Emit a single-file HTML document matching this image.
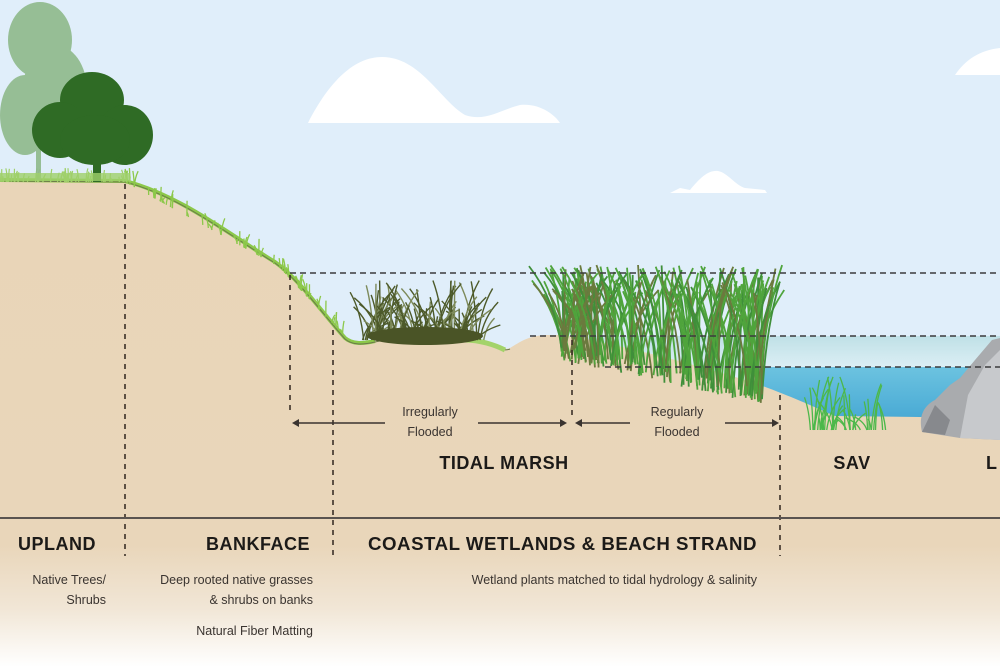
<!DOCTYPE html>
<html><head><meta charset="utf-8"><style>
html,body{margin:0;padding:0;width:1000px;height:667px;overflow:hidden;background:#fff}
svg{display:block}
text{font-family:"Liberation Sans",sans-serif}
.h{font-weight:bold;font-size:18px;fill:#1c1a18;letter-spacing:0.5px}
.s{font-size:12.5px;fill:#3a3430}
</style></head><body>
<svg width="1000" height="667" viewBox="0 0 1000 667" xmlns="http://www.w3.org/2000/svg">
<defs>
<linearGradient id="sand" x1="0" y1="0" x2="0" y2="1">
<stop offset="0" stop-color="#e9d5b8"/><stop offset="0.75" stop-color="#e9d6ba"/><stop offset="0.88" stop-color="#f1e6d6"/><stop offset="1" stop-color="#ffffff"/>
</linearGradient>
<linearGradient id="shallow" x1="0" y1="0" x2="0" y2="1">
<stop offset="0" stop-color="#bfe0e6"/><stop offset="1" stop-color="#dceff5"/>
</linearGradient>
<linearGradient id="water" x1="0" y1="0" x2="0" y2="1">
<stop offset="0" stop-color="#6cc3e0"/><stop offset="1" stop-color="#48a9d4"/>
</linearGradient>
</defs>
<rect width="1000" height="667" fill="#e0eefa"/>
<path d="M308 123 C330 80 355 57 382 57 C420 57 440 100 465 115 C485 122 500 110 520 105 C540 103 555 115 560 123 Z" fill="#fff"/>
<path d="M670 193 L680 188 L690 190 C700 178 708 170 718 171 C728 173 735 185 745 188 L765 190 L767 193 Z" fill="#fff"/>
<path d="M955 75 C965 60 980 50 1000 48 L1000 75 Z" fill="#fff"/>
<rect x="560" y="336" width="440" height="32" fill="url(#shallow)"/>
<path d="M750 367 L1000 367 L1000 420 L830 418 L760 385 Z" fill="url(#water)"/>
<path d="M0 180 L125 181 C180 195 230 235 275 262 C300 280 320 310 345 338 C352 344 362 344 375 341 C405 334 440 334 470 338 C495 342 500 352 510 348 C520 342 528 336 545 335 L565 335 C620 345 700 365 760 385 C790 396 810 405 835 416 L1000 418 L1000 667 L0 667 Z" fill="url(#sand)"/>
<path d="M0 180 L125 181 C180 195 230 235 275 262 C300 280 320 310 345 338 C352 344 362 344 375 341" fill="none" stroke="#8cc84a" stroke-width="4"/>
<path d="M0 181 L125 182 C180 196 230 236 275 263 C300 281 320 311 345 339 C352 345 362 345 375 342 C405 335 440 335 470 339 C495 343 500 353 510 349" fill="none" stroke="#6b7a4a" stroke-width="1"/>
<path d="M465 340 C480 340 495 345 505 350" stroke="#a3d36a" stroke-width="5" fill="none"/>
<path d="M922 432 C918 415 925 405 935 400 L950 385 L960 378 L975 360 L992 340 L1000 338 L1000 440 L960 438 Z" fill="#a9abae"/>
<path d="M960 438 L968 395 L985 365 L1000 350 L1000 440 Z" fill="#c7c9cc"/>
<path d="M922 432 L935 405 L950 420 L945 435 Z" fill="#87898d"/>
<g id="veg"></g>
<g fill="#8fb98b" opacity="0.9">
<ellipse cx="40" cy="40" rx="32" ry="38"/><ellipse cx="55" cy="90" rx="32" ry="45"/><ellipse cx="25" cy="115" rx="25" ry="40"/>
<rect x="36" y="80" width="5" height="100"/>
</g>
<g fill="#2f6b25">
<ellipse cx="92" cy="100" rx="32" ry="28"/><ellipse cx="60" cy="130" rx="28" ry="28"/><ellipse cx="125" cy="135" rx="28" ry="30"/><ellipse cx="95" cy="140" rx="35" ry="25"/>
<rect x="93" y="140" width="8" height="42"/>
</g>
<rect x="0" y="173" width="130" height="8" fill="#9fd06a" opacity="0.8"/>
<g stroke="#3b3a3c" stroke-width="1.6" stroke-dasharray="6 4" fill="none">
<line x1="290" y1="273" x2="1000" y2="273"/>
<line x1="530" y1="336" x2="1000" y2="336"/>
<line x1="605" y1="367" x2="1000" y2="367"/>
</g>
<g stroke="#3b3028" stroke-width="1.6" stroke-dasharray="5 5" fill="none">
<line x1="125" y1="184" x2="125" y2="556"/>
<line x1="290" y1="275" x2="290" y2="410"/>
<line x1="333" y1="330" x2="333" y2="556"/>
<line x1="572" y1="340" x2="572" y2="415"/>
<line x1="780" y1="395" x2="780" y2="556"/>
</g>
<g stroke="#3a3430" stroke-width="1.6">
<line x1="296" y1="423" x2="385" y2="423"/><line x1="478" y1="423" x2="563" y2="423"/>
<line x1="579" y1="423" x2="630" y2="423"/><line x1="725" y1="423" x2="775" y2="423"/>
</g>
<g fill="#3a3430">
<path d="M292 423 L299 419 L299 427 Z"/><path d="M567 423 L560 419 L560 427 Z"/>
<path d="M575 423 L582 419 L582 427 Z"/><path d="M779 423 L772 419 L772 427 Z"/>
</g>
<text class="s" x="430" y="416" text-anchor="middle">Irregularly</text>
<text class="s" x="430" y="436" text-anchor="middle">Flooded</text>
<text class="s" x="677" y="416" text-anchor="middle">Regularly</text>
<text class="s" x="677" y="436" text-anchor="middle">Flooded</text>
<text class="h" x="504" y="469" text-anchor="middle">TIDAL MARSH</text>
<text class="h" x="852" y="469" text-anchor="middle">SAV</text>
<text class="h" x="986" y="469">L</text>
<line x1="0" y1="518" x2="1000" y2="518" stroke="#5a5450" stroke-width="2"/>
<text class="h" x="18" y="550">UPLAND</text>
<text class="h" x="310" y="550" text-anchor="end">BANKFACE</text>
<text class="h" x="757" y="550" text-anchor="end" textLength="389" lengthAdjust="spacingAndGlyphs">COASTAL WETLANDS &amp; BEACH STRAND</text>
<text class="s" x="106" y="584" text-anchor="end">Native Trees/</text>
<text class="s" x="106" y="604" text-anchor="end">Shrubs</text>
<text class="s" x="313" y="584" text-anchor="end">Deep rooted native grasses</text>
<text class="s" x="313" y="604" text-anchor="end">&amp; shrubs on banks</text>
<text class="s" x="313" y="635" text-anchor="end">Natural Fiber Matting</text>
<text class="s" x="757" y="584" text-anchor="end">Wetland plants matched to tidal hydrology &amp; salinity</text>
</svg>
<script>
(function(){
var g=document.getElementById('veg'),ns='http://www.w3.org/2000/svg',s=7;
function r(){s=(s*9301+49297)%233280;return s/233280;}
function blade(x,y,h,lean,col,w){var p=document.createElementNS(ns,'path');
var tx=x+lean,ty=y-h;p.setAttribute('d','M'+x+' '+y+' Q'+(x+lean*0.2)+' '+(y-h*0.6)+' '+tx+' '+ty);
p.setAttribute('stroke',col);p.setAttribute('stroke-width',w);p.setAttribute('fill','none');g.appendChild(p);}
var i;
for(i=0;i<220;i++){var x=560+r()*205,b=345+(x-560)*0.22+r()*15;var top=265+r()*30;var h=Math.max(30,b-top);blade(x,b,h,(r()-0.5)*70,r()<0.45?'#4fa43c':(r()<0.5?'#6b7a3e':'#3f8f3a'),1.8);}
for(i=0;i<110;i++){var x2=360+r()*125;blade(x2,340,15+r()*45,(r()-0.5)*55,r()<0.7?'#4d5a2a':'#7d8a5a',1.4);}
var e=document.createElementNS(ns,'ellipse');e.setAttribute('cx',425);e.setAttribute('cy',336);e.setAttribute('rx',58);e.setAttribute('ry',9);e.setAttribute('fill','#4a5426');g.appendChild(e);
for(i=0;i<40;i++){var x3=810+r()*80;blade(x3,430,10+r()*45,(r()-0.5)*30,'#4cb84a',1.3);}
for(i=0;i<70;i++){var t=r(),x4=125+t*220,y4=182+(t<0.7?t/0.7*85:85+(t-0.7)/0.3*70);blade(x4,y4,5+r()*12,(r()-0.5)*8,'#8cc84a',1.3);}
for(i=0;i<60;i++){blade(r()*130,182,4+r()*10,(r()-0.5)*6,'#9fd06a',1.2);}
})();
</script>
</body></html>
